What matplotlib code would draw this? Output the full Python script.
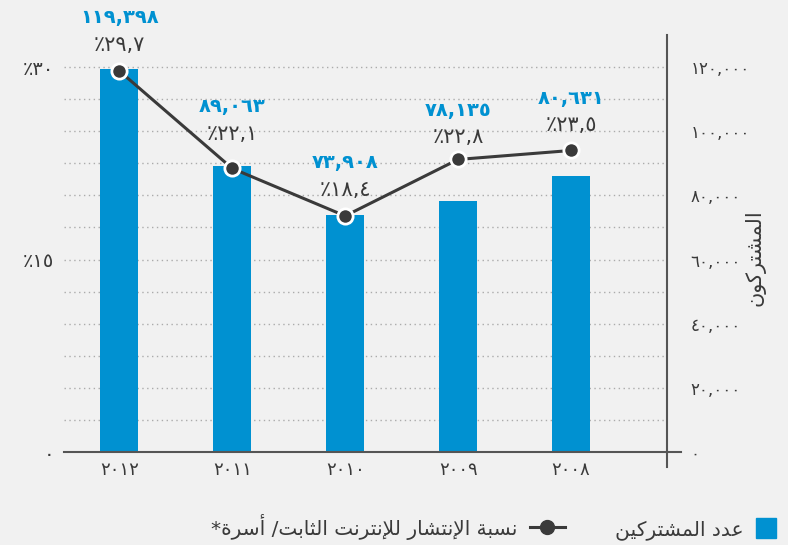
import numpy as np
import matplotlib

matplotlib.use("Agg")
import matplotlib.pyplot as plt
from matplotlib.patches import Patch, Rectangle
from matplotlib.lines import Line2D
from matplotlib.legend_handler import HandlerPatch

plt.rcParams["font.family"] = ["DejaVu Sans"]

# ---- data ----
years = ["2012", "2011", "2010", "2009", "2008"]
subscribers = [119398, 89063, 73908, 78135, 86100]          # bar heights
subscriber_labels = ["119,398", "89,063", "73,908", "78,135", "80,631"]  # as printed
penetration = [29.7, 22.1, 18.4, 22.8, 23.5]                # % of households
left_ticks = [0, 15, 30]
right_ticks = [0, 20000, 40000, 60000, 80000, 100000, 120000]

legend_bar = "عدد المشتركين"
legend_line = "نسبة الإنتشار للإنترنت الثابت/ أسرة*"
right_label = "المشتركون"

BG = "#f1f1f1"
BLUE = "#0091d1"
DARK = "#3a3a3a"

# ---- minimal arabic shaping (matplotlib has no complex text layout) ----
FORMS = {  # isolated, final, initial, medial
    "ا": ("\uFE8D", "\uFE8E", None, None),
    "أ": ("\uFE83", "\uFE84", None, None),
    "إ": ("\uFE87", "\uFE88", None, None),
    "ب": ("\uFE8F", "\uFE90", "\uFE91", "\uFE92"),
    "ة": ("\uFE93", "\uFE94", None, None),
    "ت": ("\uFE95", "\uFE96", "\uFE97", "\uFE98"),
    "ث": ("\uFE99", "\uFE9A", "\uFE9B", "\uFE9C"),
    "د": ("\uFEA9", "\uFEAA", None, None),
    "ر": ("\uFEAD", "\uFEAE", None, None),
    "س": ("\uFEB1", "\uFEB2", "\uFEB3", "\uFEB4"),
    "ش": ("\uFEB5", "\uFEB6", "\uFEB7", "\uFEB8"),
    "ع": ("\uFEC9", "\uFECA", "\uFECB", "\uFECC"),
    "ك": ("\uFED9", "\uFEDA", "\uFEDB", "\uFEDC"),
    "ل": ("\uFEDD", "\uFEDE", "\uFEDF", "\uFEE0"),
    "م": ("\uFEE1", "\uFEE2", "\uFEE3", "\uFEE4"),
    "ن": ("\uFEE5", "\uFEE6", "\uFEE7", "\uFEE8"),
    "و": ("\uFEED", "\uFEEE", None, None),
    "ي": ("\uFEF1", "\uFEF2", "\uFEF3", "\uFEF4"),
}
LAM_ALEF = {"ا": ("\uFEFB", "\uFEFC"), "أ": ("\uFEF7", "\uFEF8"), "إ": ("\uFEF9", "\uFEFA")}


def joins_forward(c):
    return c in FORMS and FORMS[c][2] is not None


def shape(text):
    out = []
    i = 0
    while i < len(text):
        c = text[i]
        prev = text[i - 1] if i > 0 else ""
        nxt = text[i + 1] if i + 1 < len(text) else ""
        if c == "ل" and nxt in LAM_ALEF:
            iso, fin = LAM_ALEF[nxt]
            out.append(fin if joins_forward(prev) else iso)
            i += 2
            continue
        if c in FORMS:
            iso, fin, ini, med = FORMS[c]
            back = joins_forward(prev)
            fwd = ini is not None and nxt in FORMS
            if back and fwd:
                out.append(med)
            elif back:
                out.append(fin)
            elif fwd:
                out.append(ini)
            else:
                out.append(iso)
        else:
            out.append(c)
        i += 1
    return "".join(reversed(out))


DIGITS = str.maketrans("0123456789", "٠١٢٣٤٥٦٧٨٩")


def ar(s):
    return str(s).translate(DIGITS)


def square_patch(legend, orig_handle, xdescent, ydescent, width, height, fontsize):
    # square swatch sitting next to the text (text is on its left)
    return Rectangle((-xdescent, -ydescent), height, height)


# ---- figure ----
fig = plt.figure(figsize=(7.88, 5.45), dpi=100, facecolor=BG)
ax = fig.add_axes([0.0812, 0.1706, 0.7652, 0.7652])
ax2 = ax.twinx()
ax.set_zorder(2)
ax2.set_zorder(1)
ax.patch.set_visible(False)
ax2.patch.set_visible(False)

x = np.arange(len(years))

# bars + grid on the subscriber axis
ax2.bar(x, subscribers, width=0.335, color=BLUE, zorder=2)
ax2.set_ylim(0, 130000)
ax2.set_yticks(right_ticks)
ax2.set_yticks(np.arange(10000, 125000, 20000), minor=True)
ax2.set_yticklabels([ar(f"{v:,}") for v in right_ticks], fontsize=12,
                    color=DARK, ha="left")
ax2.tick_params(axis="y", which="both", length=0, pad=17)
ax2.grid(axis="y", which="both", color="#ababab", linestyle=(0, (1, 2.5)),
         linewidth=1.0, zorder=0)
ax2.set_axisbelow(True)
ax2.set_ylabel(shape(right_label), fontsize=15, color=DARK, rotation=90,
               ha="center", va="center")
ax2.yaxis.set_label_coords(1.146, 0.465)

# line on the percentage axis
ax.plot(x, penetration, color=DARK, linewidth=2.2, marker="o", markersize=11,
        markerfacecolor=DARK, markeredgecolor="white", markeredgewidth=2,
        zorder=3)
ax.set_ylim(0, 32.5)
ax.set_xlim(-0.49, 4.85)
ax.set_yticks(left_ticks)
ax.set_yticklabels([ar(v) if v == 0 else "٪" + ar(v) for v in left_ticks],
                   fontsize=14, color=DARK)
ax.tick_params(axis="y", length=0, pad=7)
ax.set_xticks(x)
ax.set_xticklabels([ar(y) for y in years], fontsize=13, color=DARK)
ax.tick_params(axis="x", length=0, pad=6.5)

for a in (ax, ax2):
    for side in ("top", "left", "right", "bottom"):
        a.spines[side].set_visible(False)
ax.spines["bottom"].set_visible(True)
ax.spines["bottom"].set_color("#555555")
ax.spines["bottom"].set_linewidth(1.5)
ax2.spines["right"].set_visible(True)
ax2.spines["right"].set_color("#555555")
ax2.spines["right"].set_linewidth(1.5)
# small overhangs at the corner
ax.plot([1, 1.023], [0, 0], transform=ax.transAxes, color="#555555",
        linewidth=1.5, clip_on=False)
ax.plot([1, 1], [0, -0.036], transform=ax.transAxes, color="#555555",
        linewidth=1.5, clip_on=False)

# value labels
label_lift = [0, 6, 0, -3, -1]
for xi, p, s, lift in zip(x, penetration, subscriber_labels, label_lift):
    ax.annotate("٪" + ar(f"{p}").replace(".", ","), (xi, p),
                xytext=(0, 19 + lift), textcoords="offset points",
                ha="center", va="center", fontsize=15, color=DARK)
    ax.annotate(ar(s), (xi, p), xytext=(0, 38.5 + lift),
                textcoords="offset points", ha="center", va="center",
                fontsize=14, color=BLUE, fontweight="bold")

handles = [
    Line2D([], [], color=DARK, linewidth=2.2, marker="o", markersize=10,
           markerfacecolor=DARK, markeredgecolor=DARK),
    Patch(facecolor=BLUE, edgecolor=BLUE),
]
fig.legend(handles, [shape(legend_line), shape(legend_bar)],
           loc="center right", bbox_to_anchor=(1.017, 0.033), ncol=2,
           markerfirst=False, frameon=False, fontsize=14.5, borderpad=0,
           handlelength=1.75, handleheight=1.15, columnspacing=2.5,
           handletextpad=0.6, labelcolor=DARK,
           handler_map={Patch: HandlerPatch(patch_func=square_patch)})

fig.savefig("out.png", dpi=100, facecolor=BG)
